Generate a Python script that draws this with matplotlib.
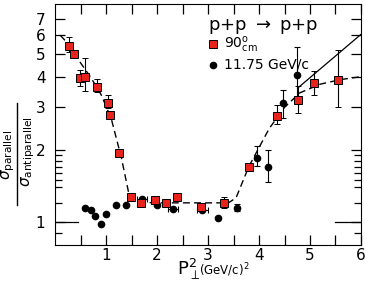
import matplotlib.pyplot as plt
import numpy as np

# red squares: 90 deg cm
sq_x = [0.28, 0.37, 0.48, 0.59, 0.82, 1.03, 1.08, 1.26, 1.48, 1.68, 1.95, 2.18, 2.40, 2.86, 3.32, 3.80, 4.35, 4.76, 5.07, 5.54]
sq_y = [5.41, 5.03, 3.99, 4.03, 3.66, 3.13, 2.80, 1.93, 1.27, 1.20, 1.235, 1.20, 1.27, 1.15, 1.20, 1.70, 2.77, 3.21, 3.80, 3.89]
sq_lo = [5.10, 4.85, 3.70, 3.50, 3.47, 2.98, 2.70, 1.93, 1.27, 1.20, 1.235, 1.20, 1.27, 1.15, 1.14, 1.65, 2.55, 2.84, 3.39, 3.01]
sq_hi = [5.90, 5.20, 4.30, 4.80, 3.95, 3.38, 2.90, 1.93, 1.27, 1.20, 1.235, 1.20, 1.27, 1.15, 1.27, 1.76, 3.08, 3.68, 4.27, 5.23]

# black circles: 11.75 GeV/c
ci_x = [0.59, 0.70, 0.79, 0.90, 0.99, 1.20, 1.39, 1.70, 1.99, 2.31, 2.89, 3.19, 3.57, 3.97, 4.18, 4.48, 4.75]
ci_y = [1.14, 1.12, 1.06, 0.976, 1.08, 1.18, 1.17, 1.25, 1.18, 1.13, 1.12, 1.04, 1.145, 1.85, 1.70, 3.13, 4.10]
ci_lo = [1.14, 1.12, 1.06, 0.976, 1.08, 1.18, 1.17, 1.25, 1.18, 1.13, 1.12, 1.04, 1.11, 1.71, 1.46, 2.71, 3.28]
ci_hi = [1.14, 1.12, 1.06, 0.976, 1.08, 1.18, 1.17, 1.25, 1.18, 1.13, 1.12, 1.04, 1.19, 2.07, 1.99, 3.55, 5.36]
ci_xerr = [0, 0, 0, 0, 0, 0, 0, 0.1, 0, 0.1, 0.1, 0, 0, 0, 0, 0, 0]

# fitted curves
dash_x = [0.1, 0.3, 0.5, 0.7, 0.9, 1.1, 1.3, 1.45, 1.6, 2.0, 2.5, 3.0, 3.4, 3.55, 3.8, 4.2, 4.5, 4.8, 5.2, 5.6, 6.0]
dash_y = [6.0, 5.4, 4.6, 4.0, 3.4, 2.7, 1.85, 1.3, 1.21, 1.20, 1.20, 1.20, 1.20, 1.26, 1.70, 2.45, 3.0, 3.45, 3.75, 3.92, 4.03]
solid_x = [4.77, 6.0]
solid_y = [3.63, 6.05]

fig = plt.figure(figsize=(3.65, 2.84), dpi=100)
ax = fig.add_axes([0.151, 0.137, 0.838, 0.849])
ax.set_yscale('log')

ax.plot(dash_x, dash_y, color='black', lw=1.0, ls=(0, (5, 3)))
ax.plot(solid_x, solid_y, color='black', lw=0.9)

ax.errorbar(ci_x, ci_y,
            yerr=[np.array(ci_y) - np.array(ci_lo), np.array(ci_hi) - np.array(ci_y)],
            xerr=ci_xerr, fmt='o', color='black', ms=4.5, capsize=2.5, elinewidth=0.8, capthick=0.8)
ax.errorbar(sq_x, sq_y,
            yerr=[np.array(sq_y) - np.array(sq_lo), np.array(sq_hi) - np.array(sq_y)],
            fmt='s', mfc='#e8231c', mec='black', mew=0.7, ms=6, ecolor='black',
            capsize=2.5, elinewidth=0.8, capthick=0.8)

ax.set_xlim(0, 6)
ax.set_ylim(0.8, 8.1)
ax.set_xticks([1, 2, 3, 4, 5, 6])
ax.set_xticks(np.arange(0.5, 6, 0.5), minor=True)
ax.set_yticks([1, 2, 3, 4, 5, 6, 7])
ax.set_yticklabels(['1', '2', '3', '4', '5', '6', '7'])
ax.set_yticks([0.9, 1.2, 1.4, 1.5, 1.6, 1.7, 1.8, 1.9], minor=True)
ax.yaxis.set_minor_formatter(plt.NullFormatter())
ax.tick_params(which='both', direction='in', top=True, right=True, labelsize=11, width=0.9)
ax.tick_params(which='major', length=7)
ax.tick_params(which='minor', length=5)
ax.tick_params(axis='x', which='minor', length=7)
ax.tick_params(axis='x', pad=2)
ax.tick_params(axis='y', pad=7)

# long ticks at y=1
ax.plot([0, 0.45], [1, 1], color='black', lw=0.9)
ax.plot([5.5, 6], [1, 1], color='black', lw=0.9)

# x label: P_perp^2 (GeV/c)^2
fig.text(0.485, 0.030, r'P$_{\perp}^{2}$', fontsize=13, va='baseline', ha='left')
fig.text(0.545, 0.032, r'(GeV/c)$^2$', fontsize=8.5, va='baseline', ha='left')

# y label: sigma_parallel / sigma_antiparallel, drawn as a rotated fraction
fig.text(0.023, 0.455, r'$\sigma_{\mathregular{parallel}}$', fontsize=11, rotation=90,
         ha='center', va='center')
fig.text(0.077, 0.465, r'$\sigma_{\mathregular{antiparallel}}$', fontsize=11, rotation=90,
         ha='center', va='center')
fig.add_artist(plt.Line2D([0.047, 0.047], [0.278, 0.637], color='black', lw=1.0,
                          transform=fig.transFigure))

ax.text(0.5, 0.905, r'p+p $\rightarrow$ p+p', transform=ax.transAxes, fontsize=13, va='center')
ax.plot([0.516], [0.834], 's', transform=ax.transAxes, mfc='#e8231c', mec='black', mew=0.7, ms=6)
ax.text(0.553, 0.830, r'90$^{\rm o}_{\rm cm}$', transform=ax.transAxes, fontsize=10, va='center')
ax.plot([0.516], [0.747], 'o', transform=ax.transAxes, color='black', ms=4.5)
ax.text(0.553, 0.747, '11.75 GeV/c', transform=ax.transAxes, fontsize=10, va='center')

fig.savefig('out.png', dpi=100)
